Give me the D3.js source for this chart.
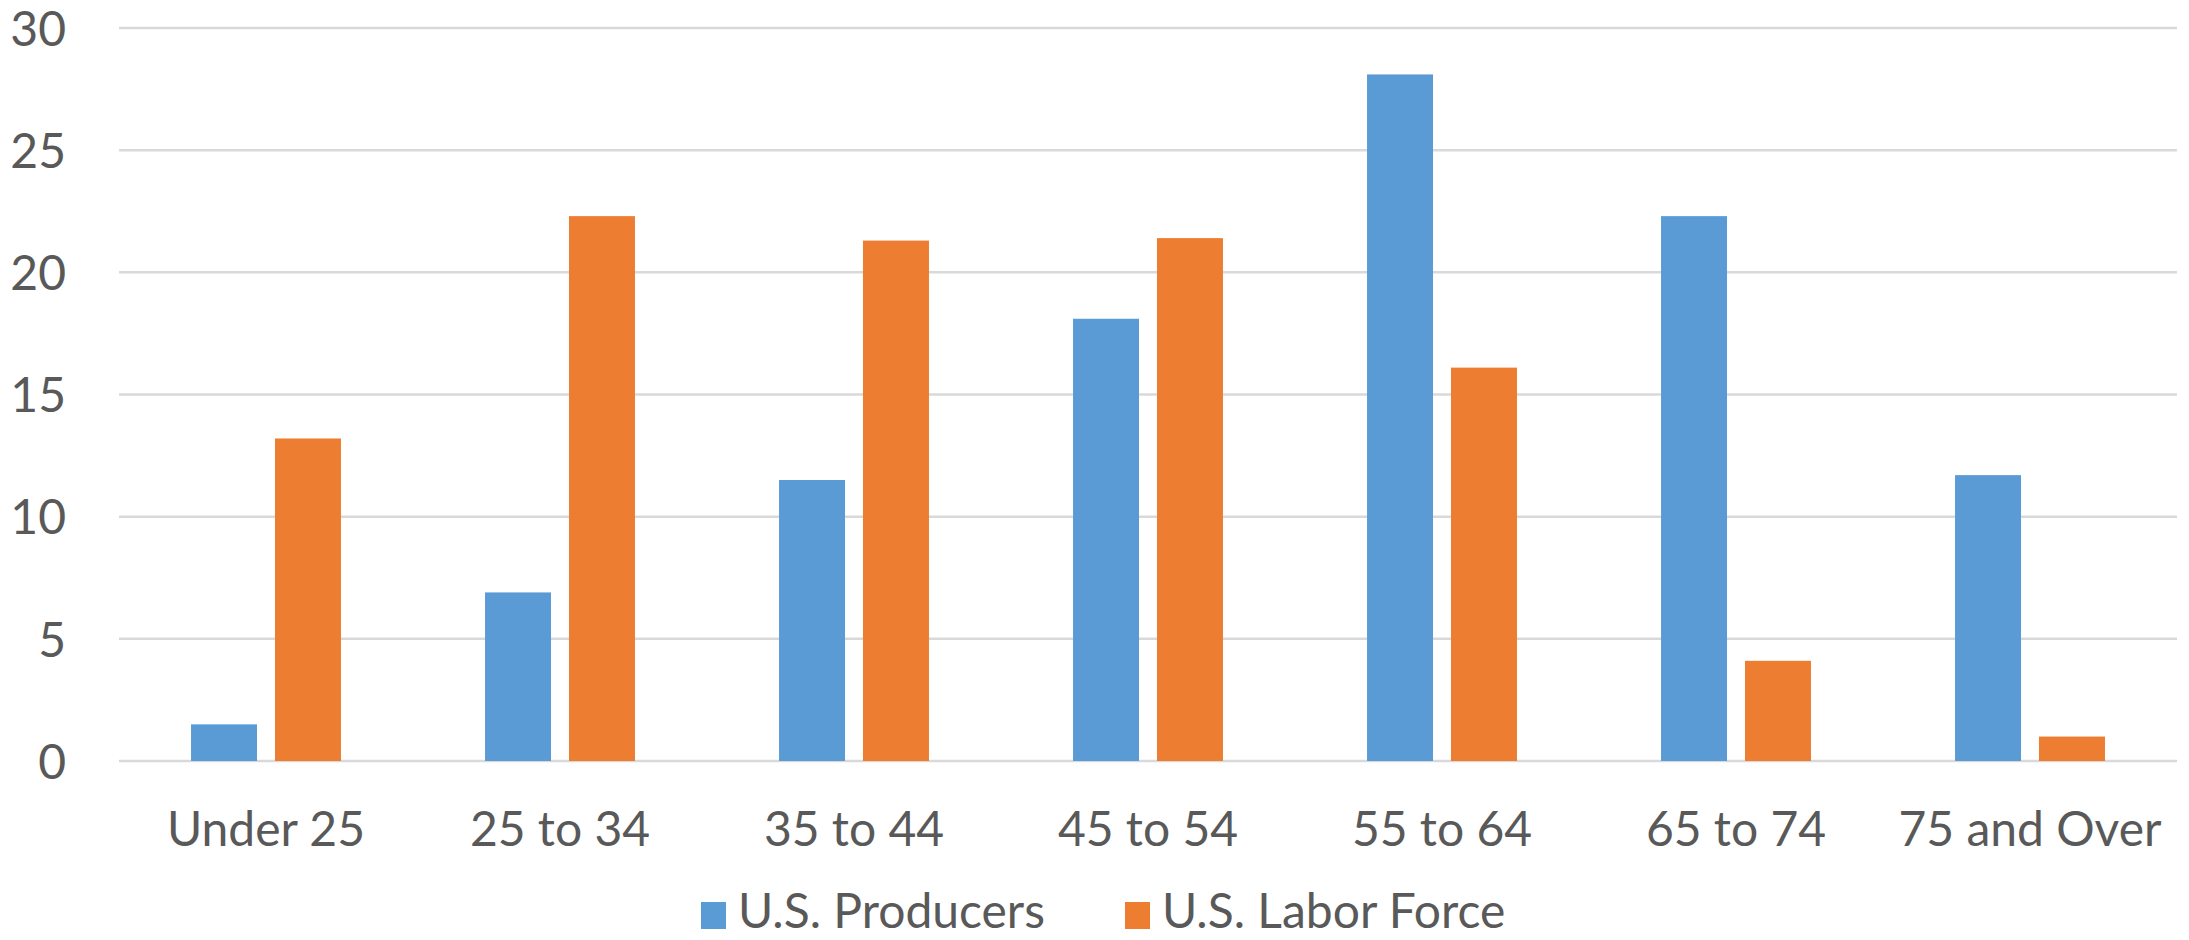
<!DOCTYPE html>
<html lang="en">
    <head>
        <meta charset="utf-8">
        <title>Producers vs Labor Force by Age</title>
        <script type="text/javascript" src="https://cdn.jsdelivr.net/npm/d3@7"></script>
        <style type="text/css">
            body { margin: 0; background: #fff; }
            text { font-family: Lato, "Open Sans", sans-serif; fill: #595959; }
            .grid line { stroke: #d9d9d9; stroke-width: 2.5; }
        </style>
    </head>
    <body>
        <script type="text/javascript">

        //Data
        var categories = ["Under 25", "25 to 34", "35 to 44", "45 to 54", "55 to 64", "65 to 74", "75 and Over"];
        var seriesNames = ["U.S. Producers", "U.S. Labor Force"];
        var producers = [1.5, 6.9, 11.5, 18.1, 28.1, 22.3, 11.7];
        var laborForce = [13.2, 22.3, 21.3, 21.4, 16.1, 4.1, 1.0];
        var yTicks = [0, 5, 10, 15, 20, 25, 30];
        var colors = ["#5b9bd5", "#ed7d31"];

        //Width and height
        var w = 2189;
        var h = 940;
        var plotLeft = 119, plotRight = 2177, plotTop = 28, plotBottom = 761;
        var fontSize = 48;

        var dataset = categories.map(function(c, i){
            return { cat: c, values: [producers[i], laborForce[i]] };
        });

        var xScale = d3.scaleBand()
            .domain(categories)
            .range([plotLeft, plotRight]);

        var bw = xScale.bandwidth();
        var xInner = d3.scaleBand()
            .domain(d3.range(seriesNames.length))
            .range([bw * 0.245, bw * 0.755])
            .paddingInner(0.214);

        var yScale = d3.scaleLinear()
            .domain([0, 30])
            .range([plotBottom, plotTop]);

        var svg = d3.select("body")
            .append("svg")
            .attr("width", w)
            .attr("height", h);

        //gridlines
        svg.append("g")
            .attr("class", "grid")
            .selectAll("line")
            .data(yTicks)
            .enter()
            .append("line")
            .attr("x1", plotLeft)
            .attr("x2", plotRight)
            .attr("y1", function(d){ return yScale(d); })
            .attr("y2", function(d){ return yScale(d); });

        //y axis labels
        var yAxis = d3.axisLeft(yScale).tickValues(yTicks).tickSize(0).tickPadding(0);
        svg.append("g")
            .attr("transform", "translate(66,0)")
            .call(yAxis)
            .call(function(g){ g.select(".domain").remove(); })
            .selectAll("text")
            .attr("font-size", fontSize)
            .attr("font-family", null)
            .attr("dy", "0.36em");

        //bars
        var groups = svg.selectAll(".cat")
            .data(dataset)
            .enter()
            .append("g")
            .attr("class", "cat")
            .attr("transform", function(d){ return "translate(" + xScale(d.cat) + ",0)"; });

        groups.selectAll("rect")
            .data(function(d){ return d.values; })
            .enter()
            .append("rect")
            .attr("x", function(d, i){ return xInner(i); })
            .attr("y", function(d){ return yScale(d); })
            .attr("width", xInner.bandwidth())
            .attr("height", function(d){ return plotBottom - yScale(d); })
            .attr("fill", function(d, i){ return colors[i]; });

        //x axis labels
        var xAxis = d3.axisBottom(xScale).tickSize(0).tickPadding(0);
        svg.append("g")
            .attr("transform", "translate(0,846)")
            .call(xAxis)
            .call(function(g){ g.select(".domain").remove(); })
            .selectAll("text")
            .attr("font-size", fontSize)
            .attr("font-family", null)
            .attr("dy", 0);

        //legend
        var legendX = [701, 1125];
        var legend = svg.selectAll(".legend")
            .data(seriesNames)
            .enter()
            .append("g")
            .attr("class", "legend")
            .attr("transform", function(d, i){ return "translate(" + legendX[i] + ",0)"; });

        legend.append("rect")
            .attr("x", 0)
            .attr("y", 902)
            .attr("width", 25)
            .attr("height", 27)
            .attr("fill", function(d, i){ return colors[i]; });

        legend.append("text")
            .attr("x", 37)
            .attr("y", 928)
            .attr("font-size", fontSize)
            .text(function(d){ return d; });

        </script>
    </body>
</html>
